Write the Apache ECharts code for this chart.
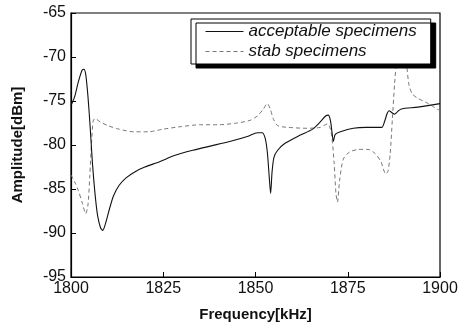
<!DOCTYPE html>
<html><head><meta charset="utf-8">
<script src="https://cdn.jsdelivr.net/npm/echarts@6/dist/echarts.min.js"></script>
<style>html,body{margin:0;padding:0;background:#fff}#c{width:463px;height:330px}</style>
</head><body><div id="c"></div>
<script>
const seriesNames = ['acceptable specimens', 'stab specimens'];
const xTicks = [1800, 1825, 1850, 1875, 1900];
const yTicks = [-95, -90, -85, -80, -75, -70, -65];
const acceptable = [
[1800,-75.5],[1801,-74.5],[1802,-72.8],[1803,-71.5],[1803.5,-71.4],[1804,-72.0],[1804.6,-74.5],[1805.2,-78],[1805.8,-82],[1806.5,-85.5],[1807.2,-88],[1808,-89.4],[1808.6,-89.7],[1809.3,-89.0],[1810.4,-87.3],[1811.5,-85.8],[1813,-84.6],[1815,-83.7],[1817.5,-83.0],[1820,-82.5],[1824,-81.9],[1828,-81.2],[1833,-80.6],[1838,-80.1],[1843,-79.6],[1848,-79.0],[1850.5,-78.6],[1851.8,-78.6],[1852.6,-79.2],[1853.2,-80.8],[1853.7,-83.5],[1854.1,-85.5],[1854.5,-83],[1855,-81.4],[1856,-80.6],[1858,-79.8],[1862,-78.9],[1865.5,-78.2],[1867.5,-77.4],[1869,-76.7],[1869.7,-76.6],[1870.3,-77.2],[1870.8,-78.8],[1871.1,-79.6],[1871.6,-78.8],[1873,-78.5],[1876.5,-78.1],[1880,-78.0],[1884.2,-78.0],[1885,-77.3],[1885.7,-76.4],[1886.2,-76.1],[1886.9,-76.3],[1887.7,-76.5],[1888.5,-76.2],[1889.5,-75.9],[1894,-75.7],[1900,-75.3]
];
const stab = [
[1800,-83.4],[1801,-84.2],[1802,-85.2],[1803,-86.5],[1804,-87.8],[1804.6,-86.8],[1805.1,-83.5],[1805.6,-79.5],[1806,-77.3],[1806.5,-77.0],[1808,-77.4],[1810,-77.8],[1813,-78.2],[1817,-78.5],[1821,-78.5],[1825,-78.2],[1830,-77.9],[1835,-77.7],[1840,-77.7],[1845,-77.5],[1848.5,-77.2],[1850.5,-76.7],[1852,-76.0],[1853.2,-75.3],[1854,-75.9],[1854.8,-77.0],[1856,-77.8],[1859,-78.0],[1864,-78.1],[1867.5,-78.0],[1869.5,-77.6],[1870.5,-78.5],[1871.3,-82],[1871.8,-85.5],[1872.2,-86.5],[1872.8,-84],[1873.8,-81.6],[1875.5,-80.8],[1878,-80.5],[1880.5,-80.5],[1882.5,-81.0],[1884,-81.9],[1885.3,-83.3],[1885.9,-83.0],[1886.5,-81],[1887.1,-77],[1887.7,-73],[1888.2,-70.5],[1888.8,-68],[1889.5,-67],[1890.3,-68],[1891,-71],[1891.6,-73.2],[1892.5,-74.2],[1894,-74.7],[1896,-75.1],[1898,-75.6],[1900,-76.1]
];

const FONT = 'Liberation Sans, Arial, Helvetica, sans-serif';
const chart = echarts.init(document.getElementById('c'), null, {renderer: 'canvas'});
chart.setOption({
  animation: false,
  backgroundColor: '#fff',
  grid: {left: 71, right: 23, top: 13, bottom: 53, show: true, borderColor: '#000', borderWidth: 1.2},
  legend: {
    left: 191, top: 19, orient: 'vertical',
    data: seriesNames,
    backgroundColor: '#fff', borderColor: '#000', borderWidth: 1,
    shadowColor: '#000', shadowBlur: 0, shadowOffsetX: 5, shadowOffsetY: 4,
    padding: [4, 14, 4, 14], itemGap: 3, itemWidth: 38, itemHeight: 16,
    itemStyle: {opacity: 0},
    lineStyle: {width: 1},
    textStyle: {fontFamily: FONT, fontStyle: 'italic', fontSize: 17, color: '#111'},
    z: 10
  },
  xAxis: {
    type: 'value', min: xTicks[0], max: xTicks[xTicks.length-1], interval: 25,
    name: 'Frequency[kHz]', nameLocation: 'middle', nameGap: 30,
    nameTextStyle: {fontFamily: FONT, fontWeight: 'bold', fontSize: 15, color: '#111'},
    axisLine: {show: true, lineStyle: {color: '#000', width: 1.2}},
    axisTick: {show: true, inside: true, length: 5, lineStyle: {color: '#000'}},
    axisLabel: {fontFamily: FONT, fontSize: 16, color: '#111', margin: 4, formatter: v => String(v)},
    splitLine: {show: false}
  },
  yAxis: {
    type: 'value', min: yTicks[0], max: yTicks[yTicks.length-1], interval: 5,
    name: 'Amplitude[dBm]', nameLocation: 'middle', nameGap: 46,
    nameTextStyle: {fontFamily: FONT, fontWeight: 'bold', fontSize: 15, color: '#111'},
    axisLine: {show: true, lineStyle: {color: '#000', width: 1.2}},
    axisTick: {show: true, inside: true, length: 5, lineStyle: {color: '#000'}},
    axisLabel: {fontFamily: FONT, fontSize: 16, color: '#111', margin: 5, formatter: v => String(v)},
    splitLine: {show: false}
  },
  series: [
    {name: seriesNames[0], type: 'line', data: acceptable, symbol: 'none', smooth: 0.25,
     lineStyle: {color: '#111', width: 1.1, type: 'solid'}, itemStyle: {color: '#111'}, z: 3},
    {name: seriesNames[1], type: 'line', data: stab, symbol: 'none', smooth: 0.25,
     lineStyle: {color: '#777', width: 1, type: [4, 3]}, itemStyle: {color: '#777'}, z: 2}
  ]
});
</script></body></html>
